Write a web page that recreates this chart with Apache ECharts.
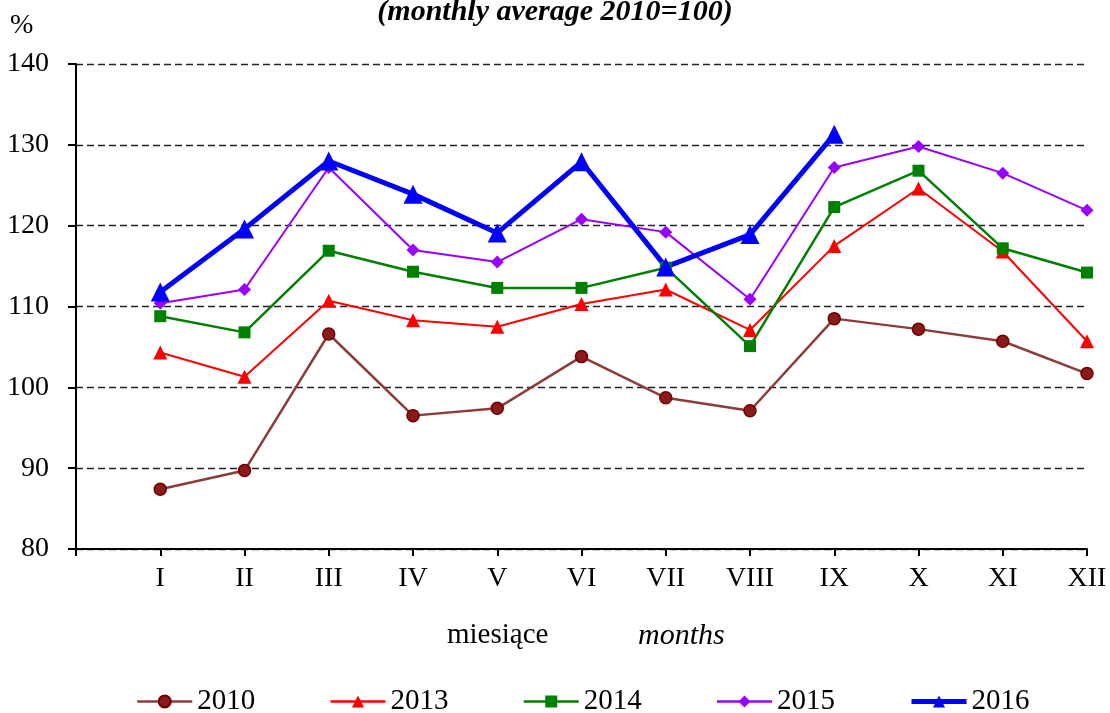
<!DOCTYPE html>
<html>
<head>
<meta charset="utf-8">
<script src="https://cdn.jsdelivr.net/npm/echarts@6/dist/echarts.min.js"></script>
<style>
  html, body { margin: 0; padding: 0; background: #fff; }
  #chart { width: 1110px; height: 713px; }
</style>
</head>
<body>
<div id="chart"></div>
<script>
// miesiące / months
var months = ['I', 'II', 'III', 'IV', 'V', 'VI', 'VII', 'VIII', 'IX', 'X', 'XI', 'XII'];
var yTicks = [80, 90, 100, 110, 120, 130, 140];

// monthly average 2010 = 100
var y2010 = [87.4, 89.7, 106.6, 96.5, 97.4, 103.8, 98.7, 97.1, 108.5, 107.2, 105.7, 101.7];
var y2013 = [104.3, 101.3, 110.7, 108.3, 107.5, 110.3, 112.1, 107.1, 117.5, 124.6, 116.8, 105.7];
var y2014 = [108.8, 106.8, 116.9, 114.3, 112.3, 112.3, 114.8, 105.1, 122.3, 126.8, 117.2, 114.2];
var y2015 = [110.4, 112.1, 127.2, 117.0, 115.5, 120.8, 119.2, 110.9, 127.2, 129.8, 126.5, 121.9];
var y2016 = [111.8, 119.6, 128.0, 123.9, 119.1, 127.9, 114.9, 118.9, 131.3];

var serif = '"Liberation Serif", "DejaVu Serif", serif';

var chart = echarts.init(document.getElementById('chart'));

// punkty na osi x: miesiąc i -> i+1
function toPoints(arr) {
    return arr.map(function (v, i) { return [i + 1, v]; });
}

function lineSeries(name, arr, color, symbol, size, width, itemStyle) {
    return {
        name: name,
        type: 'line',
        data: toPoints(arr),
        symbol: symbol,
        symbolSize: size,
        showSymbol: true,
        lineStyle: { color: color, width: width },
        itemStyle: itemStyle || { color: color },
        z: 3
    };
}

var option = {
    animation: false,
    backgroundColor: '#fff',
    grid: { left: 76, right: 23, top: 64, bottom: 164 },
    xAxis: {
        type: 'value',
        min: 0,
        max: 12,
        interval: 1,
        axisLine: { lineStyle: { color: '#000', width: 2 } },
        axisTick: { show: true, inside: false, length: 7, lineStyle: { color: '#000', width: 2 } },
        axisLabel: {
            margin: 16,
            fontFamily: serif,
            fontSize: 28,
            color: '#000',
            formatter: function (v) { return v >= 1 ? months[v - 1] : ''; }
        },
        splitLine: { show: false }
    },
    yAxis: {
        type: 'value',
        min: yTicks[0],
        max: yTicks[yTicks.length - 1],
        interval: 10,
        axisLine: { show: true, lineStyle: { color: '#000', width: 2 } },
        axisTick: { show: true, length: 8, lineStyle: { color: '#000', width: 2 } },
        axisLabel: { margin: 27, fontFamily: serif, fontSize: 28, color: '#000' },
        splitLine: { show: true, lineStyle: { color: '#222', type: [7, 4], width: 1.3 } }
    },
    legend: {
        bottom: -8,
        left: 131,
        itemWidth: 55,
        itemHeight: 15,
        itemGap: 74,
        textStyle: { fontFamily: serif, fontSize: 29, color: '#000' },
        data: [
            { name: '2010', lineStyle: { width: 2.5 } },
            { name: '2013', lineStyle: { width: 2.5 } },
            { name: '2014', lineStyle: { width: 2.5 } },
            { name: '2015', lineStyle: { width: 2.5 } },
            { name: '2016', lineStyle: { width: 5 } }
        ]
    },
    graphic: [
        {
            type: 'text', left: 'center', top: -3,
            style: { text: '(monthly average 2010=100)', fontFamily: serif, fontSize: 30,
                     fontWeight: 'bold', fontStyle: 'italic', fill: '#000' }
        },
        {
            type: 'text', left: 10, top: 12,
            style: { text: '%', fontFamily: serif, fontSize: 28, fill: '#000' }
        },
        {
            type: 'text', left: 447, top: 621,
            style: { text: 'miesiące', fontFamily: serif, fontSize: 29, fill: '#000' }
        },
        {
            type: 'text', left: 638, top: 621,
            style: { text: 'months', fontFamily: serif, fontSize: 30, fontStyle: 'italic', fill: '#000' }
        }
    ],
    series: [
        lineSeries('2010', y2010, '#8e3b3b', 'circle', 12, 2.5,
            { color: '#8b1a1a', borderColor: '#6e0000', borderWidth: 1.5 }),
        lineSeries('2013', y2013, '#ff0000', 'triangle', 14, 2),
        lineSeries('2014', y2014, '#008000', 'rect', 12, 2.5),
        lineSeries('2015', y2015, '#9900ff', 'diamond', 13, 2),
        lineSeries('2016', y2016, '#0000ff', 'triangle', 19, 5)
    ]
};

chart.setOption(option);
</script>
</body>
</html>
